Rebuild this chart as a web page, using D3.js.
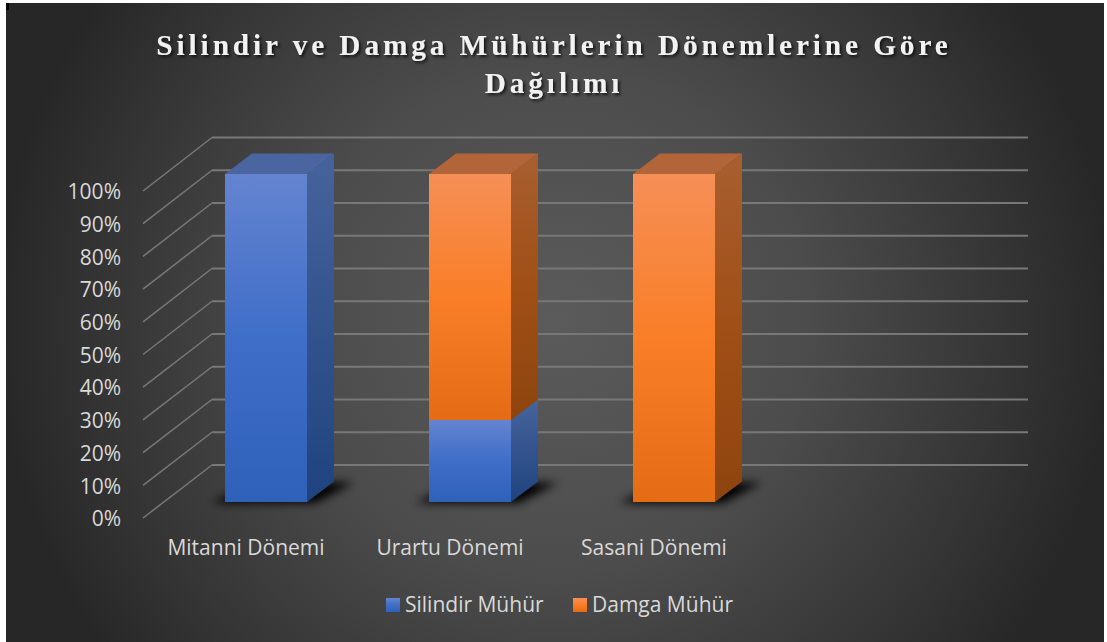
<!DOCTYPE html>
<html><head><meta charset="utf-8">
<script src="https://cdn.jsdelivr.net/npm/d3@7/dist/d3.min.js"></script>
<style>html,body{margin:0;padding:0;background:#fff}svg{display:block}
text{font-family:"Open Sans",sans-serif}</style></head><body>
<div id="c"></div>
<script>
const categories=["Mitanni Dönemi","Urartu Dönemi","Sasani Dönemi"];
const seriesNames=["Silindir Mühür","Damga Mühür"];
const silindir=[1,0.25,0];
const damga=[0,0.75,1];
const yTicks=[0,.1,.2,.3,.4,.5,.6,.7,.8,.9,1];
const titleLines=["Silindir ve Damga Mühürlerin Dönemlerine Göre","Dağılımı"];

const W=1107,H=642;
const svg=d3.select("#c").append("svg").attr("width",W).attr("height",H);
const defs=svg.append("defs");
const bg=defs.append("radialGradient").attr("id","bg").attr("gradientUnits","userSpaceOnUse")
 .attr("cx",555).attr("cy",322).attr("r",560);
[[0,"#5b5b5b"],[.45,"#4c4c4c"],[.8,"#353535"],[1,"#272727"]].forEach(s=>bg.append("stop").attr("offset",s[0]).attr("stop-color",s[1]));
function lg(id,stops){const g=defs.append("linearGradient").attr("id",id).attr("x1",0).attr("y1",0).attr("x2",0).attr("y2",1);
 stops.forEach(s=>g.append("stop").attr("offset",s[0]).attr("stop-color",s[1]));}
lg("bF",[[0,"#6484d0"],[.5,"#3f6ec8"],[1,"#2f61b9"]]);
lg("bS",[[0,"#47639c"],[1,"#1f437f"]]);
lg("oF",[[0,"#f68f56"],[.5,"#f97e27"],[1,"#e46c15"]]);
lg("oS",[[0,"#a85f30"],[.5,"#a04f16"],[1,"#8e440f"]]);
defs.append("filter").attr("id","blur").attr("x","-30%").attr("y","-60%").attr("width","160%").attr("height","220%")
 .append("feGaussianBlur").attr("stdDeviation",5);
const ts=defs.append("filter").attr("id","ts").attr("x","-5%").attr("y","-20%").attr("width","110%").attr("height","150%");
ts.append("feDropShadow").attr("dx",2).attr("dy",2).attr("stdDeviation",1.8).attr("flood-color","#000").attr("flood-opacity",.7);

svg.append("rect").attr("x",6).attr("y",3).attr("width",1098).attr("height",639).attr("fill","url(#bg)");
svg.append("rect").attr("x",6).attr("y",3).attr("width",3).attr("height",7).attr("fill","#000");

// scales
const yBar=d3.scaleLinear().domain([0,1]).range([502,174]);
const yAxis=d3.scaleLinear().domain([0,1]).range([518,191]);
const yBack=d3.scaleLinear().domain([0,1]).range([465,137.5]);
const x=d3.scaleBand().domain(categories).range([225,715]).paddingInner(122/204).paddingOuter(0);
const xLeft=143,xBackL=212,xBackR=1028;
const barW=x.bandwidth(),dx=27,dy=-20.5;
const bx=c=>x(c);

// gridlines
const grid=svg.append("g").attr("fill","none").attr("stroke","#787878");
yTicks.forEach(t=>{
 grid.append("path").attr("stroke-width",1.5).attr("d",`M${xLeft},${yAxis(t)}L${xBackL},${yBack(t)}`);
 grid.append("path").attr("stroke-width",2).attr("d",`M${xBackL},${yBack(t)}H${xBackR}`);
});

// y axis labels
const ya=svg.append("g").attr("transform","translate(129,1)")
 .call(d3.axisLeft(yAxis).tickValues(yTicks).tickFormat(d3.format(".0%")).tickSize(0).tickPadding(8));
ya.select(".domain").remove();
ya.selectAll("text").attr("fill","#d9d9d9").style("font-size","21px").style("font-family",'"Open Sans",sans-serif');

// shadows
const sh=svg.append("g");
categories.forEach(c=>{const l=bx(c);
 sh.append("path").attr("filter","url(#blur)").attr("fill","#050505")
  .attr("d",`M${l-14},${yBar(0)+1}H${l+barW+8}L${l+barW+dx+20},${yBar(0)+dy+1}H${l+30}Z`);
});

// bars
const colors=[["bF","bS","#4a659f"],["oF","oS","#b3653a"]];
const bars=svg.append("g");
categories.forEach((c,i)=>{const l=bx(c);
 let base=0;
 [silindir[i],damga[i]].forEach((v,k)=>{
  if(v<=0)return;
  const y0=yBar(base),y1=yBar(base+v);
  const g=bars.append("g");
  g.append("rect").attr("x",l).attr("y",y1).attr("width",barW).attr("height",y0-y1).attr("fill",`url(#${colors[k][0]})`);
  g.append("path").attr("fill",`url(#${colors[k][1]})`)
   .attr("d",`M${l+barW},${y0}L${l+barW+dx},${y0+dy}V${y1+dy}L${l+barW},${y1}Z`);
  base+=v;
  if(base>=1-1e-9) g.append("path").attr("fill",colors[k][2])
   .attr("d",`M${l},${y1}L${l+dx},${y1+dy}H${l+barW+dx}L${l+barW},${y1}Z`);
 });
});

// category labels
svg.append("g").selectAll("text").data(categories).join("text")
 .attr("x",c=>bx(c)+barW/2-20).attr("y",555).attr("text-anchor","middle")
 .attr("fill","#d9d9d9").style("font-size","21px").text(d=>d);

// title
svg.append("g").attr("filter","url(#ts)").selectAll("text").data(titleLines).join("text")
 .attr("x",554).attr("y",(d,i)=>55+i*38).attr("text-anchor","middle")
 .attr("fill","#f2f2f2").style("font-family",'"Liberation Serif",serif').style("font-weight","700")
 .style("font-size","29.3px").style("letter-spacing","3.9px").text(d=>d);

// legend
const lx=[386,573];
const lg2=svg.append("g");
seriesNames.forEach((s,i)=>{
 lg2.append("rect").attr("x",lx[i]).attr("y",598).attr("width",14).attr("height",14).attr("fill",`url(#${colors[i][0]})`);
 lg2.append("text").attr("x",lx[i]+19).attr("y",612).attr("fill","#d9d9d9").style("font-size","21px").text(s);
});
</script></body></html>
